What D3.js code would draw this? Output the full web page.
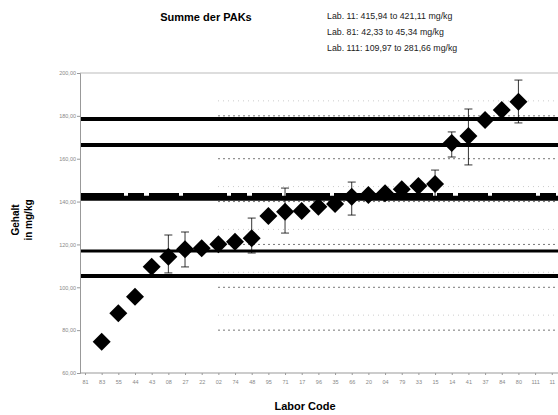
<!DOCTYPE html>
<html><head><meta charset="utf-8">
<script src="https://cdn.jsdelivr.net/npm/d3@7"></script>
<style>body{margin:0;background:#fff}svg{display:block}</style>
</head><body>
<svg id="c" width="558" height="415"></svg>
<script>
const labs = ["81","83","55","44","43","08","27","22","02","74","48","95","71","17","96","35","66","20","04","79","33","15","14","41","37","84","80","111","11"];
const values = [null,74.6,87.9,95.6,109.6,114.3,117.7,118.2,120.1,121.3,122.9,133.3,135.3,135.6,137.6,138.9,142.3,143.1,143.9,145.7,147.3,148.2,167.3,170.6,178.1,182.7,186.6,null,null];
const errLow  = [null,null,null,null,null,106.7,109.5,null,null,null,116.0,null,125.3,null,null,null,133.7,null,null,null,null,141.7,160.8,157.1,null,null,176.7,null,null];
const errHigh = [null,null,null,null,null,124.4,125.8,null,null,null,132.3,null,146.3,null,null,null,149.1,null,null,null,null,154.7,172.5,183.2,null,null,196.7,null,null];
const yTicks = [60,80,100,120,140,160,180,200];
const refLines = [178.5,166.4,116.9,105.3];
const refWidths = [4,4,3,4];
const assigned = 141.6;
const assignedBand = 142.8;
const notes = ["Lab. 11: 415,94 to 421,11 mg/kg","Lab. 81: 42,33 to 45,34 mg/kg","Lab. 111: 109,97 to 281,66 mg/kg"];

const svg = d3.select("#c");
const L = 80, R = 558, T = 73, B = 373;
const y = d3.scaleLinear().domain([60,200]).range([B,T]);
const x = d3.scalePoint().domain(labs).range([85, 85 + 28*16.67]);

// dotted grid lines
const grid = svg.append("g");
yTicks.slice(1,-1).forEach(v => {
  grid.append("line").attr("x1",218).attr("x2",R).attr("y1",y(v)).attr("y2",y(v))
    .attr("stroke","#777").attr("stroke-width",1).attr("stroke-dasharray","2,3");
  grid.append("line").attr("x1",218).attr("x2",R).attr("y1",y(v+7)).attr("y2",y(v+7))
    .attr("stroke","#ccc").attr("stroke-width",1).attr("stroke-dasharray","1,4");
});

// top border
svg.append("line").attr("x1",L).attr("x2",R).attr("y1",y(200)).attr("y2",y(200)).attr("stroke","#bbb");

// reference lines
refLines.forEach((v,i) => {
  svg.append("line").attr("x1",L).attr("x2",R).attr("y1",y(v)).attr("y2",y(v))
    .attr("stroke","#000").attr("stroke-width",refWidths[i]);
});
svg.append("line").attr("x1",L).attr("x2",R).attr("y1",y(assigned)).attr("y2",y(assigned))
  .attr("stroke","#000").attr("stroke-width",5);
svg.append("line").attr("x1",L).attr("x2",R).attr("y1",y(assignedBand)).attr("y2",y(assignedBand))
  .attr("stroke","#000").attr("stroke-width",5).attr("stroke-dasharray","44,4,16,5,30,4");

// axes
const yAxis = d3.axisLeft(y).tickValues(yTicks).tickSize(3).tickFormat(d => d3.format(".2f")(d).replace(".",","));
const gy = svg.append("g").attr("transform",`translate(${L},0)`).call(yAxis);
gy.select(".domain").attr("stroke","#999");
gy.selectAll(".tick line").attr("stroke","#999");
gy.selectAll(".tick text").attr("fill","#888").attr("font-size",5.5).attr("font-family","Arial, Liberation Sans, sans-serif").attr("x",-4);

const xAxis = d3.axisBottom(x).tickSize(2);
const gx = svg.append("g").attr("transform",`translate(0,${B})`).call(xAxis);
gx.select(".domain").attr("stroke","#999").attr("d",`M${L},0H${R}`);
gx.selectAll(".tick line").attr("stroke","#999");
gx.selectAll(".tick text").attr("fill","#888").attr("font-size",5.5).attr("font-family","Arial, Liberation Sans, sans-serif").attr("y",7);

// error bars
const eb = labs.map((l,i) => ({l, lo: errLow[i], hi: errHigh[i]})).filter(d => d.lo != null);
const ge = svg.append("g").attr("stroke","#000").attr("stroke-width",0.8);
eb.forEach(d => {
  ge.append("line").attr("x1",x(d.l)).attr("x2",x(d.l)).attr("y1",y(d.lo)).attr("y2",y(d.hi));
  [d.lo,d.hi].forEach(v => ge.append("line").attr("x1",x(d.l)-4).attr("x2",x(d.l)+4).attr("y1",y(v)).attr("y2",y(v)));
});

// diamonds
const pts = labs.map((l,i) => ({l, v: values[i]})).filter(d => d.v != null);
const s = 9;
svg.append("g").selectAll("path").data(pts).join("path")
  .attr("d", d => `M${x(d.l)},${y(d.v)-s}L${x(d.l)+s},${y(d.v)}L${x(d.l)},${y(d.v)+s}L${x(d.l)-s},${y(d.v)}Z`)
  .attr("fill","#000");

// titles
const ff = "Arial, Liberation Sans, sans-serif";
svg.append("text").attr("x",206).attr("y",21).attr("text-anchor","middle").attr("font-family",ff)
  .attr("font-weight","bold").attr("font-size",11).text("Summe der PAKs");
notes.forEach((t,i) => svg.append("text").attr("x",327).attr("y",19 + i*16).attr("font-family",ff)
  .attr("font-size",8.8).attr("fill","#222").text(t));
svg.append("text").attr("x",305).attr("y",410).attr("text-anchor","middle").attr("font-family",ff)
  .attr("font-weight","bold").attr("font-size",11).text("Labor Code");
svg.append("text").attr("transform","translate(19,220) rotate(-90)").attr("text-anchor","middle")
  .attr("font-family",ff).attr("font-weight","bold").attr("font-size",10).text("Gehalt");
svg.append("text").attr("transform","translate(32,220) rotate(-90)").attr("text-anchor","middle")
  .attr("font-family",ff).attr("font-weight","bold").attr("font-size",10).text("in mg/kg");
</script>
</body></html>
